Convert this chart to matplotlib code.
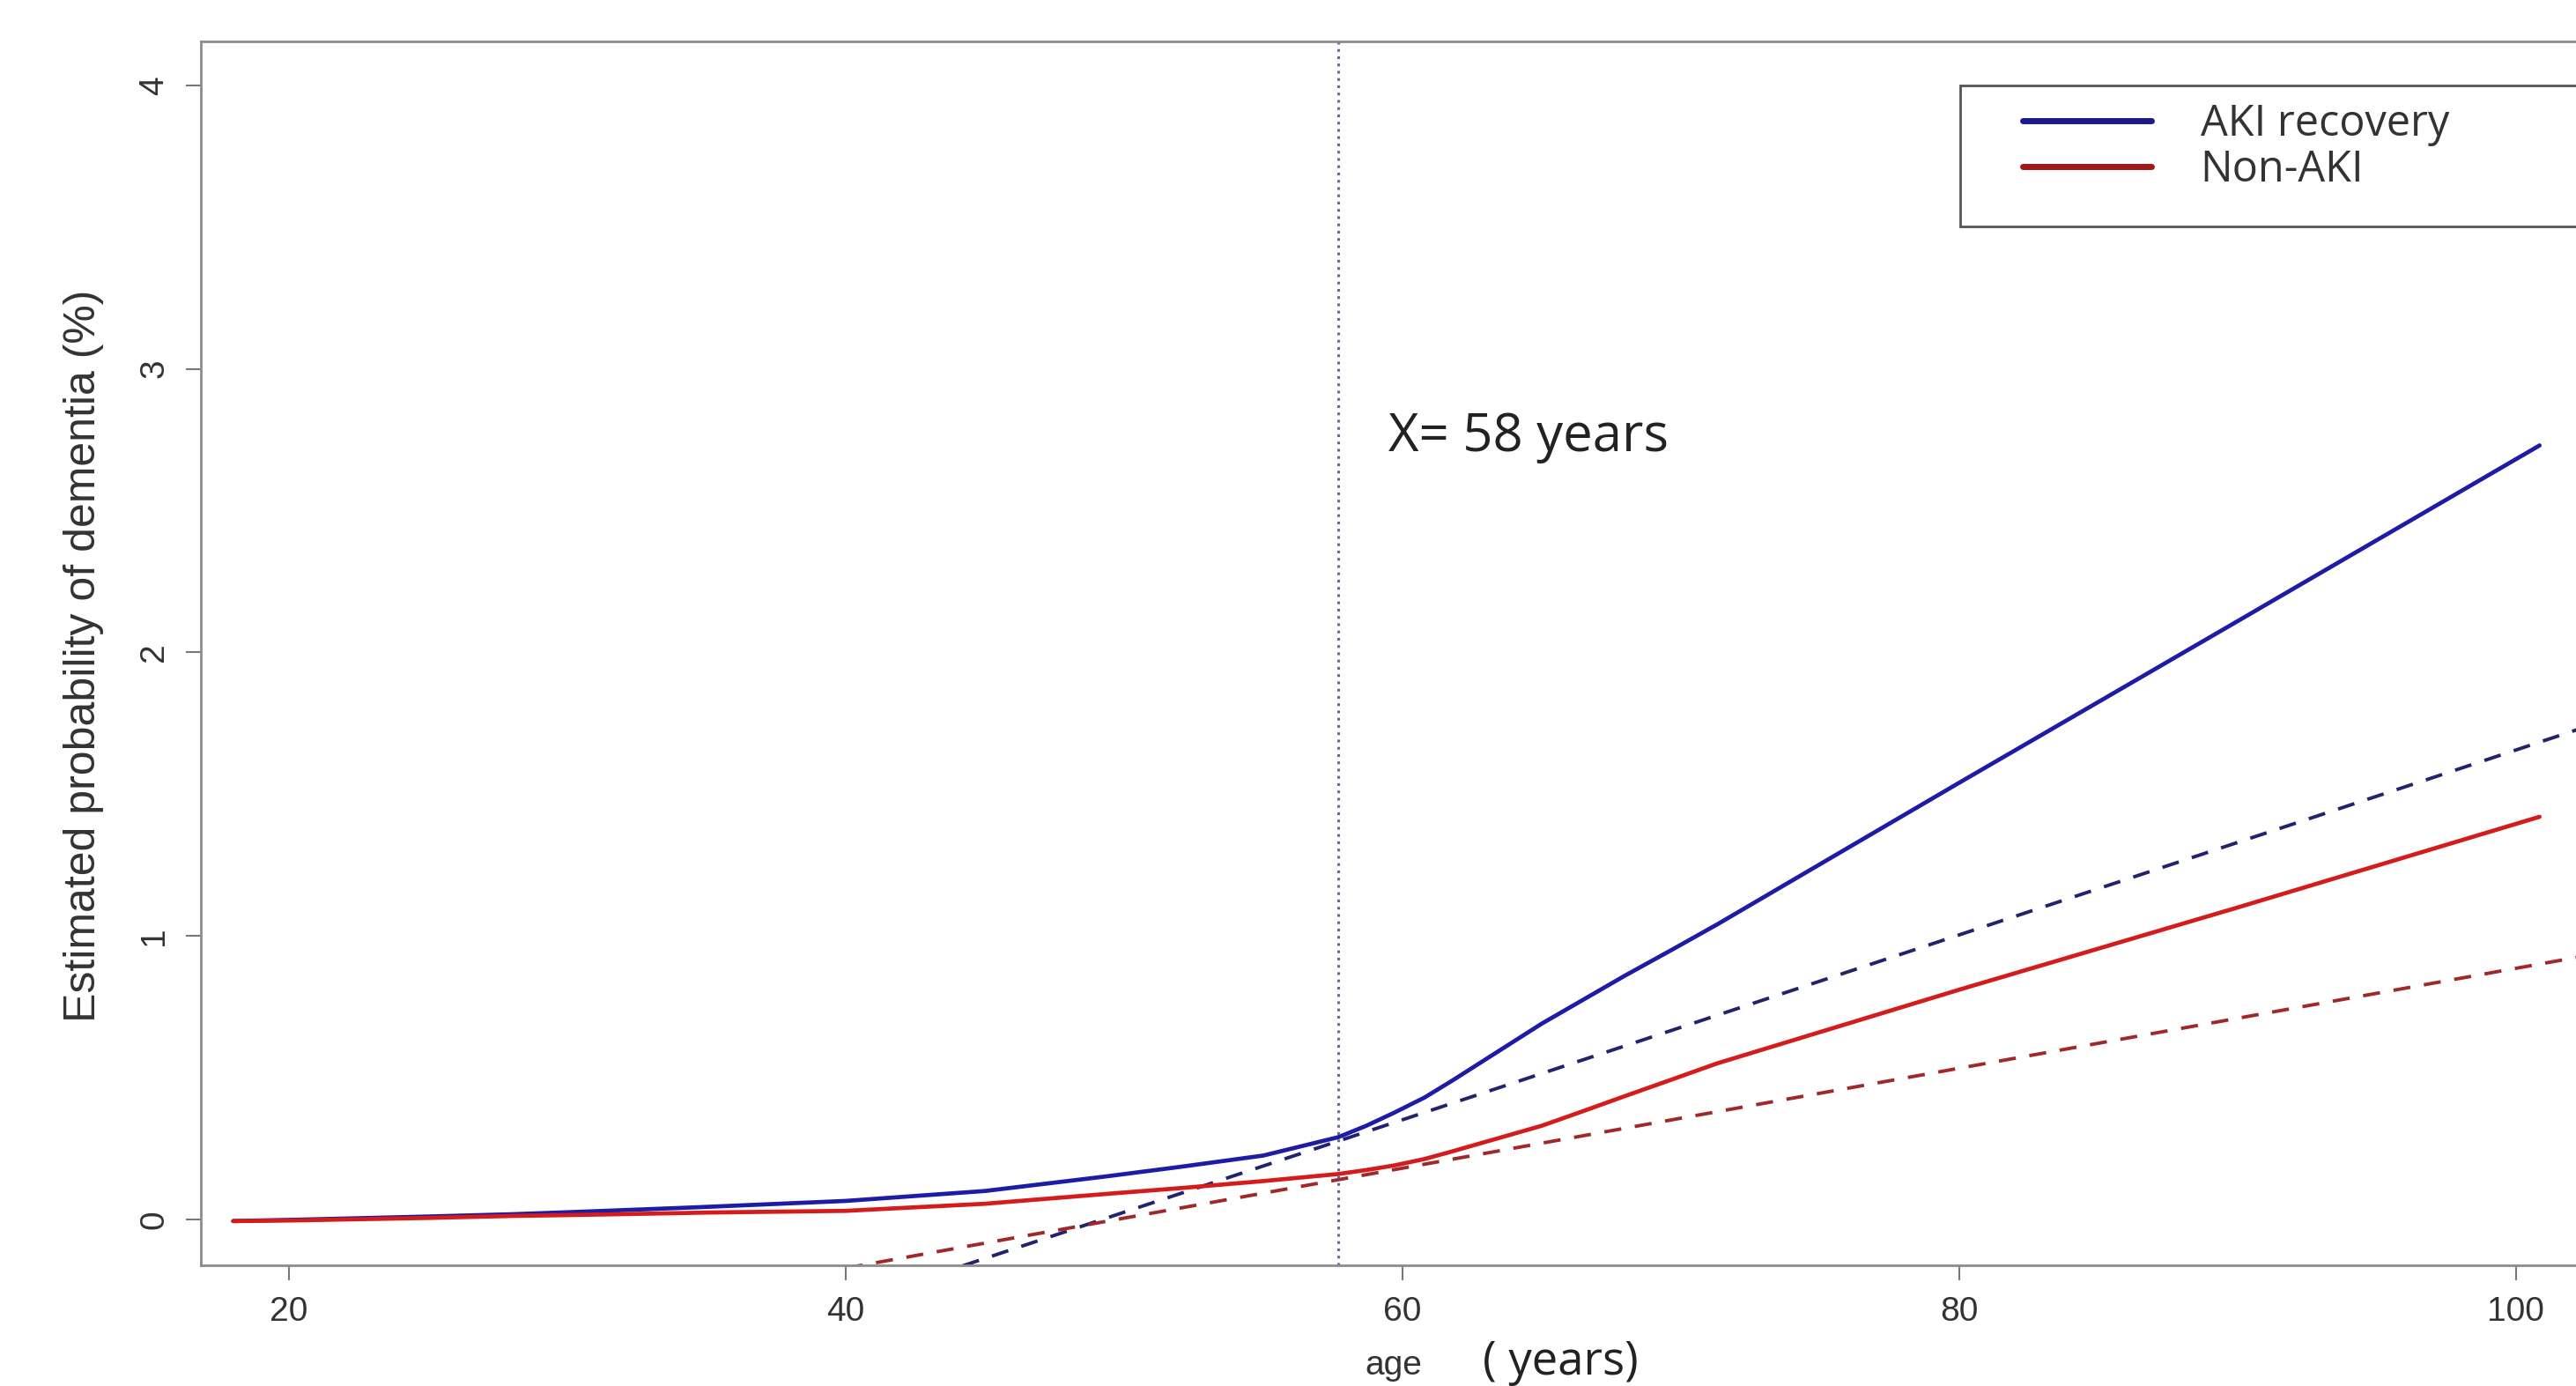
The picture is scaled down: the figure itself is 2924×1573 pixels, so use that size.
import matplotlib
matplotlib.use('Agg')
import matplotlib.pyplot as plt
import matplotlib.patches as mpatches

# ---- data ----
age = [18, 20, 25, 28, 30, 34, 35, 40, 45, 49.4, 52, 55, 57.7, 58.7, 59.7, 60.8, 61.8, 63.4,
       65, 66.5, 68, 69.7, 71.3, 80, 90, 100.85]
aki_recovery = [-0.006, -0.002, 0.010, 0.018, 0.025, 0.040, 0.044, 0.065, 0.100, 0.152, 0.185, 0.225,
                0.290, 0.330, 0.376, 0.430, 0.490, 0.590, 0.690, 0.775, 0.860, 0.952, 1.040,
                1.540, 2.110, 2.730]
non_aki = [-0.006, -0.004, 0.005, 0.012, 0.015, 0.022, 0.024, 0.030, 0.055, 0.090, 0.110, 0.135,
           0.160, 0.174, 0.190, 0.213, 0.240, 0.285, 0.330, 0.382, 0.435, 0.494, 0.550,
           0.810, 1.100, 1.420]

# tangent (dashed) lines at the change point
tan_age = [40, 104]
tan_aki = [-0.301, 1.786]
tan_non = [-0.172, 0.956]

change_point = 57.7
xticks = [20, 40, 60, 80, 100]
yticks = [0, 1, 2, 3, 4]

C_BLUE = '#1c1ca6'
C_RED = '#d41c1c'
C_BLUE_D = '#22226e'
C_RED_D = '#a02828'
C_TXT = '#333333'

fig = plt.figure(figsize=(29.24, 15.73), dpi=100)
ax = fig.add_axes([0.078, 0.0871, 0.9419, 0.883])
ax.set_xlim(16.84, 104.0)
ax.set_ylim(-0.162, 4.155)

ax.plot(tan_age, tan_aki, color=C_BLUE_D, lw=2.8, ls=(0, (5, 4)))
ax.plot(tan_age, tan_non, color=C_RED_D, lw=2.8, ls=(0, (5, 4)))
l1, = ax.plot(age, aki_recovery, color=C_BLUE, lw=3.4, solid_capstyle='round')
l2, = ax.plot(age, non_aki, color=C_RED, lw=3.4, solid_capstyle='round')
ax.axvline(change_point, color='#66669a', lw=2.2, ls=(0, (1.0, 1.7)))

ax.text(59.5, 2.76, 'X= 58 years', fontsize=43, family='Open Sans', color='#222222',
        ha='left', va='center')

for s in ax.spines.values():
    s.set_color('#8c8c8c')
    s.set_linewidth(2)

ax.set_xticks(xticks)
ax.set_yticks(yticks)
ax.tick_params(axis='both', length=12, width=1.5, color='#777777', labelcolor=C_TXT,
               labelsize=28, pad=13)
for lab in ax.get_xticklabels() + ax.get_yticklabels():
    lab.set_family('Liberation Sans')
for lab in ax.get_yticklabels():
    lab.set_rotation(90)
    lab.set_va('center')

ax.set_ylabel('Estimated probability of dementia (%)', family='Liberation Sans',
              fontsize=36, color=C_TXT)
ax.yaxis.set_label_coords(-0.040, 0.498)

fig.text(0.530, 0.003, 'age', fontsize=28, family='Liberation Sans', color=C_TXT,
         ha='left', va='bottom')
fig.text(0.5756, 0.0, '( years)', fontsize=38, family='Open Sans', color='#222222',
         ha='left', va='bottom')

# legend: frame drawn separately, it runs past the right edge like the reference
ax.add_patch(mpatches.Rectangle((0.761, 0.8366), 0.30, 0.1017, transform=fig.transFigure,
                                fc='white', ec='#555555', lw=2, zorder=4, clip_on=False))
leg = ax.legend([l1, l2], ['AKI recovery', 'Non-AKI'],
                loc='center left', bbox_to_anchor=(0.7852, 0.8935),
                bbox_transform=fig.transFigure, frameon=False,
                prop={'family': 'Open Sans', 'size': 35}, handlelength=3.0,
                handletextpad=1.15, labelspacing=0.06, borderpad=0, borderaxespad=0)
leg.set_zorder(6)
for t in leg.get_texts():
    t.set_color(C_TXT)
leg.get_lines()[0].set_color('#1a1a8c')
leg.get_lines()[1].set_color('#a01818')
for ln in leg.get_lines():
    ln.set_linewidth(5)

fig.savefig('out.png', dpi=100)
